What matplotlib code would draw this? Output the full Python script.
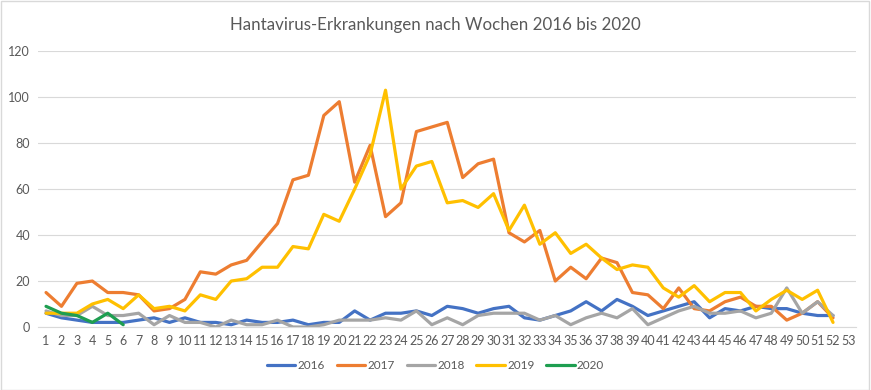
import matplotlib
matplotlib.use("Agg")
import matplotlib.pyplot as plt
from matplotlib.patches import Rectangle

weeks = list(range(1, 54))

y2016 = [6, 4, 3, 2, 2, 2, 3, 4, 2, 4, 2, 2, 1, 3, 2, 2, 3, 1, 2, 2,
         7, 3, 6, 6, 7, 5, 9, 8, 6, 8, 9, 4, 3, 5, 7, 11, 7, 12, 9, 5,
         7, 9, 11, 4, 8, 7, 9, 8, 8, 6, 5, 5]
y2017 = [15, 9, 19, 20, 15, 15, 14, 7, 8, 12, 24, 23, 27, 29, 37, 45, 64, 66, 92, 98,
         63, 79, 48, 54, 85, 87, 89, 65, 71, 73, 41, 37, 42, 20, 26, 21, 30, 28, 15, 14,
         8, 17, 8, 7, 11, 13, 9, 9, 3, 6, 11, 4]
y2018 = [7, 5, 5, 9, 5, 5, 6, 1, 5, 2, 2, 0, 3, 1, 1, 3, 0, 0, 1, 3,
         3, 3, 4, 3, 7, 1, 4, 1, 5, 6, 6, 6, 3, 5, 1, 4, 6, 4, 8, 1,
         4, 7, 9, 6, 6, 7, 4, 6, 17, 6, 11, 5]
y2019 = [6, 6, 6, 10, 12, 8, 14, 8, 9, 7, 14, 12, 20, 21, 26, 26, 35, 34, 49, 46,
         60, 75, 103, 60, 70, 72, 54, 55, 52, 58, 42, 53, 36, 41, 32, 36, 30, 25, 27, 26,
         17, 13, 18, 11, 15, 15, 7, 12, 16, 12, 16, 2]
y2020 = [9, 6, 5, 2, 6, 1]

series = [("2016", y2016, "#4472C4"),
          ("2017", y2017, "#ED7D31"),
          ("2018", y2018, "#A5A5A5"),
          ("2019", y2019, "#FFC000"),
          ("2020", y2020, "#1E9E50")]

plt.rcParams['font.family'] = ['Lato', 'DejaVu Sans']

fig = plt.figure(figsize=(8.71, 3.9), dpi=100)
ax = fig.add_axes([0.044, 0.1615, 0.939, 0.7075])

for name, vals, col in series:
    ax.plot(weeks[:len(vals)], vals, color=col, lw=2.3, label=name,
            solid_joinstyle='round', solid_capstyle='round')

ax.set_xlim(0.5, 53.5)
ax.set_ylim(0, 120)
ax.set_yticks(range(0, 121, 20))
ax.set_xticks(weeks)
ax.set_xticklabels([str(w) for w in weeks])
ax.tick_params(axis='both', length=0, colors='#595959', labelsize=9)
ax.tick_params(axis='x', pad=6)
ax.tick_params(axis='y', pad=6)
ax.grid(axis='y', color='#D9D9D9', lw=0.8)
ax.set_axisbelow(True)
for s in ['top', 'right', 'left']:
    ax.spines[s].set_visible(False)
ax.spines['bottom'].set_color('#D9D9D9')
ax.spines['bottom'].set_linewidth(0.8)

fig.text(0.5, 0.935, "Hantavirus-Erkrankungen nach Wochen 2016 bis 2020",
         ha='center', va='center', fontsize=12.2, color='#595959')

fig.legend(loc='center', bbox_to_anchor=(0.5, 0.062), ncol=5, frameon=False,
           fontsize=8.5, labelcolor='#595959', handlelength=2.4, handletextpad=0.2,
           columnspacing=1.0)

fig.patches.append(Rectangle((0.001, 0.001), 0.997, 0.997, transform=fig.transFigure,
                             fill=False, edgecolor='#D9D9D9', lw=1))

fig.savefig("out.png", dpi=100)
